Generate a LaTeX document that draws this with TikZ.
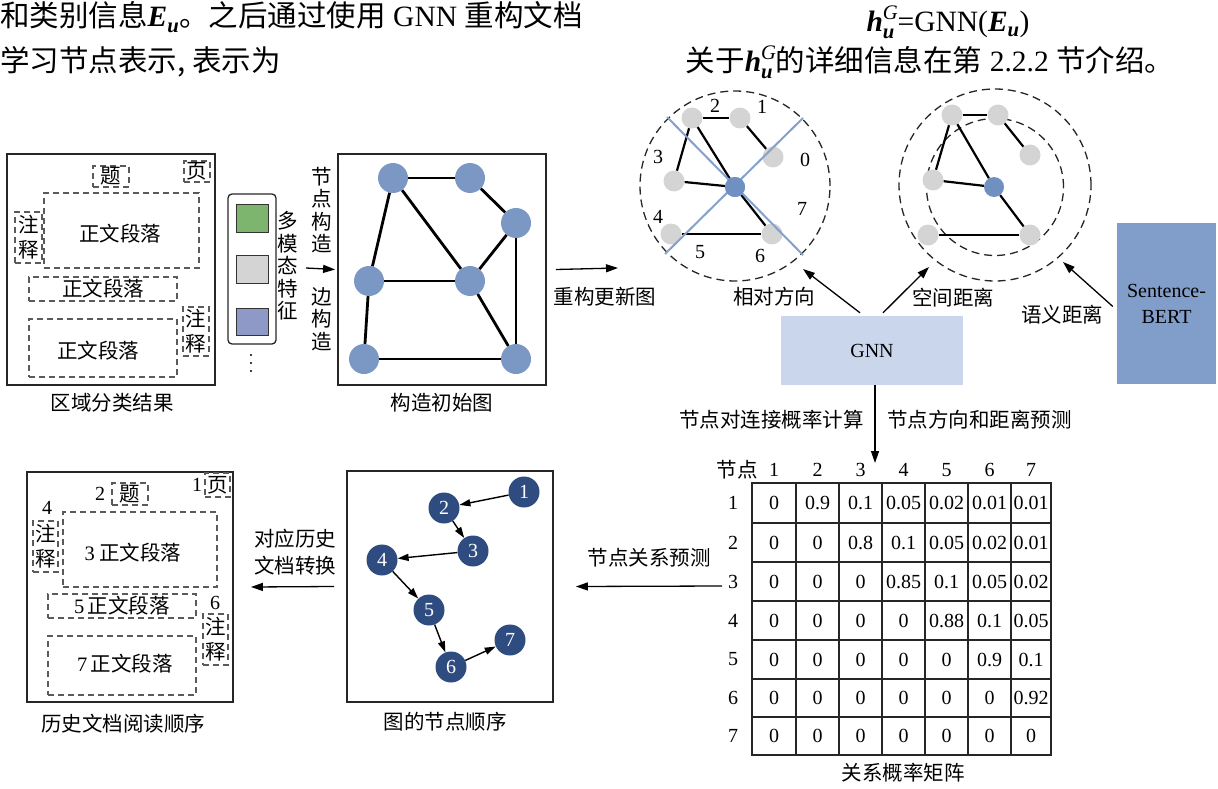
\documentclass[tikz,border=0pt]{standalone}
\usepackage{fontspec}
\setmainfont{Liberation Serif}
\newfontfamily\cjk{Noto Sans CJK SC}
\usetikzlibrary{arrows.meta}
\definecolor{gnode}{HTML}{7B98C4}
\definecolor{lgray}{HTML}{D4D4D4}
\definecolor{cnode}{HTML}{7090C2}
\definecolor{bline}{HTML}{84A0CC}
\definecolor{gnnc}{HTML}{C9D6EC}
\definecolor{sbert}{HTML}{819ECB}
\definecolor{fgreen}{HTML}{7DB56E}
\definecolor{fpurple}{HTML}{8F99C8}
\definecolor{onode}{HTML}{2E4C80}
\definecolor{dgray}{HTML}{5A5A5A}
\newcommand\bi[1]{{\bfseries\itshape #1}}
\newcommand\Eu{\bi{E}\raisebox{-0.05em}{\textsubscript{\bi{u}}}}
\newcommand\hu{\bi{h}\makebox[0.5em][l]{\rlap{\raisebox{0.12em}{\textsuperscript{\itshape G}}}\raisebox{-0.1em}{\textsubscript{\bi{u}}}}}
\tikzset{
  panel/.style={draw=black!85, line width=1.8pt, inner sep=0},
  dbox/.style={draw=dgray, dash pattern=on 6pt off 4pt, line width=1.3pt, inner sep=0, align=center},
  gn/.style={circle, fill=gnode, minimum size=30pt, inner sep=0},
  gy/.style={circle, fill=lgray, minimum size=21pt, inner sep=0},
  cn/.style={circle, fill=cnode, minimum size=20pt, inner sep=0},
  on/.style={circle, fill=onode, minimum size=31pt, inner sep=0, text=white, font=\fontsize{20}{20}\selectfont\rmfamily},
  edgeA/.style={line width=2.8pt},
  edgeB/.style={line width=2.2pt},
  arr/.style={line width=1.3pt, -{Triangle[length=12pt,width=8pt]}},
  dashc/.style={draw=black!85, line width=1.3pt, dash pattern=on 8pt off 5pt},
  lab/.style={font=\fontsize{20.5}{24}\selectfont\cjk, inner sep=0},
  vlab/.style={font=\fontsize{20.5}{22.5}\selectfont\cjk, inner sep=0, align=center},
  num/.style={font=\fontsize{20}{24}\selectfont\rmfamily, inner sep=0},
  big/.style={font=\fontsize{29.5}{34}\selectfont, inner sep=0},
}
\begin{document}
\begin{tikzpicture}[x=1pt,y=-1pt]
\useasboundingbox (0,0) rectangle (1218,789);

% ---------- top text ----------
\node[big, anchor=west] (t1) at (0,17) {{\cjk 和类别信息}\Eu{\cjk 。之后通过使用} GNN {\cjk 重构文档}};
\node[big, anchor=west] (t2) at (0,62) {\cjk 学习节点表示, 表示为};
\node[big] (f1) at (948,22) {\hu=GNN(\Eu)};
\node[big] (f2) at (930,62) {{\cjk 关于}\hu{\cjk 的详细信息在第} 2.2.2 {\cjk 节介绍。}};

% ---------- panel 1: region classification ----------
\node[panel, minimum width=208pt, minimum height=231pt] (P1) at (111,269.5) {};
\node[dbox, lab, minimum width=36pt, minimum height=21pt] (r1) at (111,176.5) {题};
\node[dbox, lab, minimum width=26pt, minimum height=21pt] (r2) at (197,171.5) {页};
\node[dbox, minimum width=155pt, minimum height=75pt] (r3) at (121.5,230.5) {};
\node[lab] (r3t) at (120,234) {正文段落};
\node[dbox, font=\fontsize{20.5}{25}\selectfont\cjk, minimum width=27pt, minimum height=51pt] (r4) at (28.5,237.5) {注\\释};
\node[dbox, lab, minimum width=148pt, minimum height=24pt] (r5) at (103,289) {正文段落};
\node[dbox, minimum width=148pt, minimum height=58pt] (r6) at (103,348) {};
\node[lab] (r6t) at (98,351) {正文段落};
\node[dbox, font=\fontsize{20.5}{25}\selectfont\cjk, minimum width=26pt, minimum height=49pt] (r7) at (196,331.5) {注\\释};
\node[lab] (cap1) at (112,403) {区域分类结果};

% features
\node[draw=black!85, line width=1.3pt, rounded corners=4pt, minimum width=48pt, minimum height=150pt, inner sep=0] (feat) at (252,269) {};
\node[draw=black!80, line width=1pt, fill=fgreen, minimum width=32pt, minimum height=28pt, inner sep=0] (fg) at (252,218) {};
\node[draw=black!80, line width=1pt, fill=lgray, minimum width=32pt, minimum height=28pt, inner sep=0] (fy) at (252,269) {};
\node[draw=black!80, line width=1pt, fill=fpurple, minimum width=32pt, minimum height=27pt, inner sep=0] (fp) at (252,321.5) {};
\foreach \yy in {355,363,371} \fill (251,\yy) circle (1.1pt);
\node[vlab] (mm) at (288,266) {多\\模\\态\\特\\征};
\node[vlab] (jd) at (322,210) {节\\点\\构\\造};
\node[vlab] (bg) at (322,319) {边\\构\\造};

% ---------- panel 2: initial graph ----------
\node[panel, minimum width=208pt, minimum height=231pt] (P2) at (442,269.5) {};
\coordinate (a1s) at (306,268);
\draw[arr] (a1s) -- ([xshift=-2pt]P2.west);
\node[gn] (A) at (393,178) {};
\node[gn] (B) at (470,178) {};
\node[gn] (C) at (516,223) {};
\node[gn] (D) at (369,281) {};
\node[gn] (E) at (470,281) {};
\node[gn] (F) at (364,359) {};
\node[gn] (G) at (516,359) {};
\foreach \a/\b in {A/B,B/C,A/D,A/E,C/E,C/G,D/E,D/F,E/G,F/G}
  \draw[edgeA] (\a) -- (\b);
\node[lab] (cap2) at (442,403) {构造初始图};

\coordinate (c1w) at (618,268);
\draw[arr] ([xshift=9pt]P2.east) -- (c1w);
\node[lab] (cap3) at (605,297) {重构更新图};

% ---------- circle 1: relative direction ----------
\node[circle, dashc, minimum size=190pt, inner sep=0] (C1) at (735,186) {};
\node[gy] (k2) at (692,118) {};
\node[gy] (k1) at (740,118) {};
\node[gy] (k0) at (773,157) {};
\node[gy] (k3) at (674,181) {};
\node[gy] (k4) at (671,234) {};
\node[gy] (k6) at (772,234) {};
\node[cn] (kc) at (735,187) {};
\foreach \a/\b in {k2/k1,k1/k0,k2/k3,k2/kc,k3/kc,kc/k6,k4/k6}
  \draw[edgeB] (\a) -- (\b);
\coordinate (bl1) at (667,117);
\coordinate (bl2) at (803,255);
\coordinate (bl3) at (803,118);
\coordinate (bl4) at (665,254);
\draw[bline, line width=2pt] (bl1) -- (bl2);
\draw[bline, line width=2pt] (bl3) -- (bl4);
\node[cn] (kc2) at (735,187) {};
\node[num] (s2) at (715,106) {2};
\node[num] (s1) at (762,107) {1};
\node[num] (s0) at (805,160) {0};
\node[num] (s3) at (658,157) {3};
\node[num] (s4) at (658,217) {4};
\node[num] (s5) at (700,252) {5};
\node[num] (s6) at (760,256) {6};
\node[num] (s7) at (802,209) {7};
\node[lab] (cap4) at (774,297) {相对方向};

% ---------- circle 2: spatial / semantic distance ----------
\node[circle, dashc, minimum size=192pt, inner sep=0] (C2) at (995,185) {};
\node[circle, dashc, minimum size=137pt, inner sep=0] (C3) at (995,187) {};
\node[gy] (m2) at (952,115) {};
\node[gy] (m1) at (998,115) {};
\node[gy] (m0) at (1030,155) {};
\node[gy] (m3) at (933,180) {};
\node[gy] (m4) at (928,235) {};
\node[gy] (m6) at (1030,235) {};
\node[cn] (mc) at (994,187) {};
\foreach \a/\b in {m2/m1,m1/m0,m2/m3,m2/mc,m3/mc,mc/m6,m4/m6}
  \draw[edgeB] (\a) -- (\b);
\node[lab] (cap5) at (953,298) {空间距离};
\node[lab] (cap6) at (1062,315) {语义距离};

% ---------- GNN / Sentence-BERT ----------
\node[fill=gnnc, minimum width=182pt, minimum height=69pt, inner sep=0, font=\fontsize{20}{24}\selectfont] (gnn) at (872,350.5) {GNN};
\node[fill=sbert, minimum width=99pt, minimum height=161pt, inner sep=0, align=center, font=\fontsize{20}{26}\selectfont] (sb) at (1166.5,303.5) {Sentence-\\BERT};
\coordinate (c1t) at (803,269);
\coordinate (c2t) at (929,267);
\coordinate (c3t) at (1063,262);
\draw[arr] ([xshift=-12pt,yshift=3pt]gnn.north) -- (c1t);
\draw[arr] ([xshift=11pt,yshift=3pt]gnn.north) -- (c2t);
\draw[arr] ([xshift=-4pt,yshift=-3pt]sb.west) -- (c3t);

\coordinate (mtop) at (875,463);
\draw[arr] (gnn.south -| mtop) -- (mtop);
\node[lab, anchor=east] (l1) at (864,420) {节点对连接概率计算};
\node[lab, anchor=west] (l2) at (887,420) {节点方向和距离预测};

% ---------- matrix ----------
\draw[line width=1.1pt, black!85] (752,483) rectangle (1051,755);
\foreach \xx in {796,839,882,925,968,1011}
  \draw[line width=1.1pt, black!85] (\xx,483) -- (\xx,755);
\foreach \yy in {523,562,601,640,679,717}
  \draw[line width=1.1pt, black!85] (752,\yy) -- (1051,\yy);
\node[lab] (hd) at (737,470) {节点};
\def\colx{{774,817.5,860.5,903.5,946.5,989.5,1031}}
\def\rowy{{503,542.5,581.5,620.5,659.5,698,736}}
\foreach \c in {1,...,7}{
  \pgfmathsetmacro\cx{\colx[\c-1]}
  \node[num] (h\c) at (\cx,470) {\c};
}
\foreach \vals [count=\r] in {{0,0.9,0.1,0.05,0.02,0.01,0.01},{0,0,0.8,0.1,0.05,0.02,0.01},{0,0,0,0.85,0.1,0.05,0.02},{0,0,0,0,0.88,0.1,0.05},{0,0,0,0,0,0.9,0.1},{0,0,0,0,0,0,0.92},{0,0,0,0,0,0,0}}{
  \pgfmathsetmacro\ry{\rowy[\r-1]}
  \node[num] (rw\r) at (733,\ry) {\r};
  \foreach \v [count=\c] in \vals {
    \pgfmathsetmacro\cx{\colx[\c-1]}
    \node[num] (m-\r-\c) at (\cx,\ry) {\v};
  }
}
\node[lab] (cap7) at (903,773) {关系概率矩阵};

% ---------- panel 4: node order ----------
\node[panel, minimum width=206pt, minimum height=231pt] (P4) at (450,586.5) {};
\coordinate (mL) at (722,586);
\draw[arr] (mL) -- ([xshift=22pt]P4.east);
\node[lab] (cap8) at (649,558) {节点关系预测};
\node[on] (o1) at (524,492) {1};
\node[on] (o2) at (444,508) {2};
\node[on] (o3) at (473,551) {3};
\node[on] (o4) at (382,560) {4};
\node[on] (o5) at (429,610) {5};
\node[on] (o6) at (451,667) {6};
\node[on] (o7) at (510,640) {7};
\foreach \a/\b in {o1/o2,o2/o3,o3/o4,o4/o5,o5/o6,o6/o7}
  \draw[line width=1.4pt, -{Triangle[length=11pt,width=7pt]}] (\a) -- (\b);
\node[lab] (cap9) at (445,722) {图的节点顺序};

% ---------- panel 5: reading order ----------
\node[panel, minimum width=206pt, minimum height=230pt] (P5) at (130,587) {};
\draw[arr] ([xshift=-12pt]P4.west) -- ([xshift=17pt]P5.east);
\node[font=\fontsize{20.5}{27}\selectfont\cjk, inner sep=0, align=center] (cap10) at (295,552) {对应历史\\文档转换};
\node[num] (q1) at (197,485) {1};
\node[dbox, lab, minimum width=25pt, minimum height=24pt] (b1) at (217.5,485) {页};
\node[num] (q2) at (100,494) {2};
\node[dbox, lab, minimum width=36pt, minimum height=22pt] (b2) at (130,494) {题};
\node[num] (q4) at (47,508) {4};
\node[dbox, font=\fontsize{20.5}{25}\selectfont\cjk, minimum width=25pt, minimum height=51pt] (b4) at (45.5,546.5) {注\\释};
\node[dbox, minimum width=154pt, minimum height=75pt] (b3) at (140,549.5) {};
\node[lab] (b3t) at (133,553) {{\rmfamily 3} 正文段落};
\node[dbox, lab, minimum width=148pt, minimum height=24pt] (b5) at (122,606) {{\rmfamily 5\,}正文段落};
\node[num] (q6) at (215,603) {6};
\node[dbox, font=\fontsize{20.5}{25}\selectfont\cjk, minimum width=25pt, minimum height=51pt] (b6) at (215.5,639.5) {注\\释};
\node[dbox, minimum width=148pt, minimum height=59pt] (b7) at (122,665.5) {};
\node[lab] (b7t) at (125,664) {{\rmfamily 7\,}正文段落};
\node[lab] (cap11) at (123,724) {历史文档阅读顺序};
\end{tikzpicture}
\end{document}
